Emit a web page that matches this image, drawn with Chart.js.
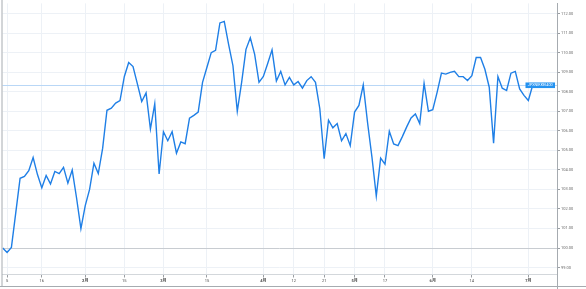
<!DOCTYPE html>
<html>
<head>
<meta charset="utf-8">
<script src="https://cdn.jsdelivr.net/npm/chart.js@4.4.1/dist/chart.umd.min.js"></script>
<style>
  html, body { margin: 0; padding: 0; background: #fff; }
  #wrap { width: 586px; height: 289px; }
</style>
</head>
<body>
<div id="wrap"><canvas id="chart" width="586" height="289"></canvas></div>
<script>
// JPX-Nikkei 400, rebased to 100 at the first session
const symbol = 'JPXNIKKEI400';
const baseValue = 100;

const values = [
  100.00, 99.77, 100.03, 101.80, 103.57, 103.67, 103.96, 104.63, 103.76, 103.08,
  103.71, 103.28, 103.92, 103.81, 104.13, 103.32, 103.99, 102.56, 100.99, 102.17,
  103.00, 104.34, 103.81, 105.10, 107.05, 107.16, 107.42, 107.55, 108.78, 109.49,
  109.29, 108.40, 107.50, 107.94, 106.09, 107.38, 103.79, 105.95, 105.49, 105.95,
  104.85, 105.43, 105.34, 106.65, 106.79, 106.96, 108.48, 109.24, 110.00, 110.12,
  111.52, 111.60, 110.42, 109.33, 107.00, 108.48, 110.17, 110.76, 109.91, 108.48,
  108.78, 109.44, 110.14, 108.55, 109.04, 108.35, 108.73, 108.35, 108.52, 108.18,
  108.57, 108.77, 108.48, 107.13, 104.57, 106.54, 106.15, 106.37, 105.49, 105.86,
  105.24, 106.96, 107.30, 108.35, 106.40, 104.65, 102.66, 104.60, 104.29, 105.98,
  105.33, 105.24, 105.70, 106.20, 106.66, 106.86, 106.37, 108.43, 107.00, 107.08,
  107.97, 108.95, 108.90, 108.99, 109.04, 108.77, 108.77, 108.57, 108.82, 109.75,
  109.75, 109.15, 108.23, 105.36, 108.78, 108.18, 108.06, 108.95, 109.04, 108.14,
  107.81, 107.55, 108.33
];

const tickIndex = [1, 9, 19, 28, 37, 47, 60, 67, 74, 81, 88, 99, 108, 121];
const tickText = ['5', '16', '2月', '15', '3月', '15', '4月', '12', '21', '5月', '17', '6月', '14', '7月'];
const yTicks = [99, 100, 101, 102, 103, 104, 105, 106, 107, 108, 109, 110, 111, 112];

const fontFamily = "Roboto, 'Noto Sans CJK JP', 'DejaVu Sans', sans-serif";
const lineColor = '#1f7fe6';

// price line, last-value badge and the pane frame
const framePlugin = {
  id: 'frame',
  beforeDatasetsDraw(chart) {
    const { ctx, chartArea } = chart;
    const y = Math.round(chart.scales.y.getPixelForValue(values[values.length - 1])) + 0.5;
    ctx.save();
    ctx.strokeStyle = '#b9d7f6';
    ctx.lineWidth = 1;
    ctx.beginPath();
    ctx.moveTo(chartArea.left, y);
    ctx.lineTo(chartArea.right, y);
    ctx.stroke();
    ctx.restore();
  },
  afterDraw(chart) {
    const { ctx, chartArea } = chart;
    const y = chart.scales.y.getPixelForValue(values[values.length - 1]);
    ctx.save();
    // badge
    const w = 29.5, h = 5.6;
    const x = chartArea.right - 2 - w;
    ctx.fillStyle = '#2492f0';
    ctx.fillRect(x, y - h / 2, w, h);
    ctx.fillStyle = '#ffffff';
    ctx.font = '3.8px ' + fontFamily;
    ctx.textAlign = 'center';
    ctx.textBaseline = 'middle';
    ctx.fillText(symbol, x + w / 2, y + 0.2);
    // frame
    ctx.strokeStyle = '#a6abb0';
    ctx.lineWidth = 1;
    ctx.beginPath();
    ctx.moveTo(2, 0);
    ctx.lineTo(2, 286.5);
    ctx.moveTo(0, 286.5);
    ctx.lineTo(586, 286.5);
    ctx.moveTo(chartArea.right + 0.5, chartArea.bottom);
    ctx.lineTo(chartArea.right + 0.5, 289);
    ctx.stroke();
    ctx.restore();
  }
};

new Chart(document.getElementById('chart'), {
  type: 'line',
  data: {
    datasets: [{
      label: symbol,
      data: values.map((v, i) => ({ x: i, y: v })),
      borderColor: lineColor,
      borderWidth: 1.4,
      pointRadius: 0,
      tension: 0,
      fill: false
    }]
  },
  options: {
    responsive: false,
    animation: false,
    layout: { padding: { left: 2.5, top: 0, right: 0, bottom: 0 } },
    plugins: {
      legend: { display: false },
      tooltip: { enabled: false }
    },
    scales: {
      x: {
        type: 'linear',
        min: -0.05,
        max: 127.6,
        afterBuildTicks: axis => { axis.ticks = tickIndex.map(v => ({ value: v })); },
        afterFit: axis => { axis.height = 14.5; },
        grid: { color: '#edf1f6', tickColor: '#9a9ea3', tickLength: 3 },
        border: { color: '#d3d7db' },
        ticks: {
          autoSkip: false,
          maxRotation: 0,
          padding: 1.5,
          color: '#4a4a4a',
          font: ctx => ({
            size: 4,
            family: fontFamily,
            weight: (tickText[ctx.index] || '').includes('月') ? 'bold' : 'normal'
          }),
          callback: (v, i) => tickText[i]
        }
      },
      y: {
        type: 'linear',
        position: 'right',
        min: 98.645,
        max: 112.52,
        afterBuildTicks: axis => { axis.ticks = yTicks.map(v => ({ value: v })); },
        afterFit: axis => { axis.width = 29; },
        grid: {
          color: ctx => (ctx.tick && ctx.tick.value === baseValue) ? '#c8ccd1' : '#edf1f6',
          tickColor: '#9a9ea3',
          tickLength: 3
        },
        border: { color: '#a6abb0' },
        ticks: {
          padding: 1,
          color: '#6a6a6a',
          font: { size: 4, family: fontFamily },
          callback: v => v.toFixed(2)
        }
      }
    }
  },
  plugins: [framePlugin]
});
</script>
</body>
</html>
